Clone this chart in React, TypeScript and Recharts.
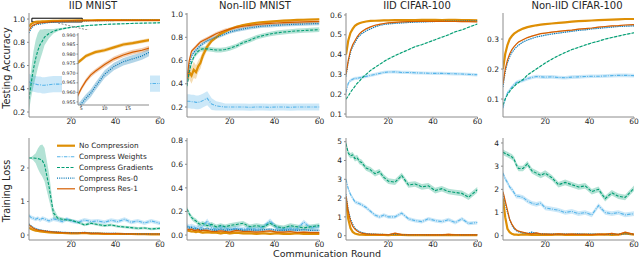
import React from "react";
import { ComposedChart, Line, Area, XAxis, YAxis, ReferenceArea, ReferenceLine } from "recharts";

const rounds = [1, 2, 3, 4, 5, 6, 7, 8, 10, 12, 14, 16, 18, 20, 23, 26, 29, 32, 35, 38, 41, 44, 47, 50, 53, 56, 60];

// IID MNIST - testing accuracy
const mnistIidAccNoComp = [0.935, 0.958, 0.969, 0.975, 0.977, 0.979, 0.98, 0.981, 0.982, 0.9835, 0.985, 0.9857, 0.9866, 0.9875, 0.9885, 0.989, 0.9895, 0.99, 0.99, 0.9905, 0.9905, 0.991, 0.991, 0.991, 0.9915, 0.9915, 0.9915];
const mnistIidAccWeights = [0.46, 0.45, 0.445, 0.44, 0.435, 0.435, 0.43, 0.43, 0.435, 0.44, 0.44, 0.44, 0.44, 0.44, 0.44, 0.44, 0.44, 0.44, 0.44, 0.44, 0.44, 0.44, 0.44, 0.44, 0.44, 0.445, 0.445];
const mnistIidAccGrads = [0.31, 0.45, 0.57, 0.66, 0.73, 0.78, 0.81, 0.845, 0.875, 0.895, 0.908, 0.916, 0.923, 0.929, 0.936, 0.942, 0.946, 0.95, 0.953, 0.956, 0.958, 0.96, 0.962, 0.964, 0.965, 0.966, 0.968];
const mnistIidAccRes0 = [0.88, 0.92, 0.94, 0.951, 0.954, 0.957, 0.9595, 0.963, 0.9695, 0.9735, 0.976, 0.9775, 0.979, 0.9815, 0.983, 0.9845, 0.9855, 0.986, 0.9865, 0.987, 0.9875, 0.988, 0.988, 0.9885, 0.9885, 0.989, 0.989];
const mnistIidAccRes1 = [0.9, 0.935, 0.948, 0.957, 0.962, 0.966, 0.969, 0.971, 0.9745, 0.9775, 0.9795, 0.981, 0.982, 0.9835, 0.985, 0.986, 0.9865, 0.987, 0.9875, 0.988, 0.988, 0.9885, 0.9885, 0.989, 0.989, 0.989, 0.989];
const mnistIidAccGradsSpread = [0.1, 0.12, 0.15, 0.16, 0.15, 0.13, 0.1, 0.07, 0.04, 0.02, 0.012, 0.008, 0.006, 0.005, 0.004, 0.004, 0.004, 0.004, 0.004, 0.004, 0.004, 0.004, 0.004, 0.004, 0.004, 0.004, 0.004];

// Non-IID MNIST - testing accuracy
const mnistNonAccNoComp = [0.44, 0.5, 0.47, 0.52, 0.5, 0.55, 0.58, 0.64, 0.72, 0.77, 0.8, 0.83, 0.85, 0.87, 0.89, 0.905, 0.915, 0.925, 0.93, 0.935, 0.94, 0.943, 0.946, 0.949, 0.951, 0.953, 0.955];
const mnistNonAccWeights = [0.25, 0.25, 0.245, 0.245, 0.24, 0.24, 0.245, 0.255, 0.275, 0.225, 0.21, 0.205, 0.2, 0.2, 0.2, 0.2, 0.198, 0.2, 0.2, 0.198, 0.2, 0.2, 0.198, 0.2, 0.2, 0.2, 0.2];
const mnistNonAccGrads = [0.38, 0.5, 0.58, 0.63, 0.66, 0.68, 0.695, 0.7, 0.7, 0.695, 0.69, 0.69, 0.695, 0.705, 0.725, 0.755, 0.775, 0.8, 0.815, 0.828, 0.838, 0.845, 0.85, 0.855, 0.858, 0.862, 0.866];
const mnistNonAccRes0 = [0.4, 0.55, 0.64, 0.67, 0.69, 0.71, 0.73, 0.745, 0.77, 0.785, 0.8, 0.815, 0.83, 0.845, 0.86, 0.872, 0.882, 0.89, 0.896, 0.9, 0.904, 0.907, 0.91, 0.912, 0.914, 0.916, 0.918];
const mnistNonAccRes1 = [0.45, 0.6, 0.68, 0.7, 0.72, 0.74, 0.76, 0.77, 0.79, 0.81, 0.83, 0.845, 0.86, 0.87, 0.885, 0.895, 0.903, 0.91, 0.915, 0.92, 0.923, 0.926, 0.928, 0.93, 0.932, 0.934, 0.936];
const mnistNonAccNoCompSpread = [0.05, 0.06, 0.07, 0.07, 0.06, 0.05, 0.05, 0.04, 0.03, 0.02, 0.015, 0.01, 0.008, 0.008, 0.008, 0.008, 0.008, 0.008, 0.008, 0.008, 0.008, 0.008, 0.008, 0.008, 0.008, 0.008, 0.008];
const mnistNonAccWeightsSpread = [0.06, 0.06, 0.06, 0.06, 0.06, 0.06, 0.06, 0.06, 0.06, 0.05, 0.04, 0.035, 0.03, 0.03, 0.03, 0.03, 0.03, 0.03, 0.03, 0.03, 0.03, 0.03, 0.03, 0.03, 0.03, 0.03, 0.03];

// IID CIFAR-100 - testing accuracy
const cifarIidAccNoComp = [0.4, 0.47, 0.51, 0.53, 0.545, 0.553, 0.558, 0.562, 0.567, 0.57, 0.571, 0.572, 0.573, 0.573, 0.574, 0.574, 0.574, 0.574, 0.575, 0.575, 0.575, 0.574, 0.575, 0.575, 0.574, 0.574, 0.573];
const cifarIidAccWeights = [0.21, 0.255, 0.27, 0.275, 0.28, 0.28, 0.283, 0.285, 0.29, 0.295, 0.3, 0.305, 0.31, 0.312, 0.313, 0.31, 0.31, 0.308, 0.307, 0.306, 0.305, 0.305, 0.304, 0.303, 0.302, 0.3, 0.298];
const cifarIidAccGrads = [0.175, 0.19, 0.21, 0.225, 0.24, 0.255, 0.265, 0.28, 0.3, 0.32, 0.335, 0.35, 0.365, 0.378, 0.395, 0.41, 0.425, 0.44, 0.45, 0.463, 0.475, 0.488, 0.5, 0.515, 0.525, 0.538, 0.555];
const cifarIidAccRes0 = [0.29, 0.36, 0.41, 0.44, 0.46, 0.48, 0.495, 0.505, 0.52, 0.53, 0.54, 0.547, 0.552, 0.555, 0.558, 0.56, 0.562, 0.564, 0.565, 0.566, 0.567, 0.568, 0.569, 0.569, 0.57, 0.57, 0.571];
const cifarIidAccRes1 = [0.3, 0.37, 0.42, 0.45, 0.47, 0.49, 0.505, 0.515, 0.53, 0.54, 0.548, 0.553, 0.557, 0.56, 0.563, 0.565, 0.566, 0.567, 0.568, 0.568, 0.568, 0.568, 0.567, 0.567, 0.566, 0.566, 0.565];

// Non-IID CIFAR-100 - testing accuracy
const cifarNonAccNoComp = [0.2, 0.25, 0.28, 0.3, 0.31, 0.318, 0.323, 0.328, 0.335, 0.34, 0.343, 0.346, 0.348, 0.35, 0.352, 0.354, 0.356, 0.358, 0.36, 0.361, 0.362, 0.363, 0.364, 0.365, 0.366, 0.367, 0.367];
const cifarNonAccWeights = [0.07, 0.1, 0.12, 0.13, 0.14, 0.148, 0.155, 0.158, 0.162, 0.168, 0.172, 0.175, 0.174, 0.173, 0.174, 0.172, 0.171, 0.173, 0.174, 0.175, 0.176, 0.176, 0.177, 0.178, 0.179, 0.179, 0.178];
const cifarNonAccGrads = [0.08, 0.1, 0.115, 0.125, 0.135, 0.142, 0.15, 0.155, 0.165, 0.18, 0.19, 0.2, 0.21, 0.22, 0.233, 0.245, 0.255, 0.265, 0.272, 0.28, 0.287, 0.293, 0.3, 0.305, 0.31, 0.315, 0.321];
const cifarNonAccRes0 = [0.14, 0.19, 0.22, 0.24, 0.255, 0.265, 0.273, 0.28, 0.29, 0.297, 0.302, 0.307, 0.31, 0.313, 0.317, 0.32, 0.323, 0.326, 0.329, 0.331, 0.334, 0.336, 0.338, 0.34, 0.342, 0.343, 0.344];
const cifarNonAccRes1 = [0.15, 0.2, 0.23, 0.25, 0.265, 0.275, 0.283, 0.29, 0.298, 0.305, 0.31, 0.314, 0.318, 0.32, 0.323, 0.326, 0.328, 0.33, 0.333, 0.335, 0.337, 0.34, 0.342, 0.344, 0.345, 0.347, 0.348];

// IID MNIST - training loss
const mnistIidLossNoComp = [0.22, 0.18, 0.15, 0.13, 0.12, 0.11, 0.1, 0.09, 0.08, 0.07, 0.065, 0.06, 0.055, 0.05, 0.05, 0.06, 0.04, 0.04, 0.035, 0.03, 0.035, 0.03, 0.03, 0.025, 0.025, 0.02, 0.02];
const mnistIidLossWeights = [0.58, 0.52, 0.5, 0.47, 0.5, 0.45, 0.5, 0.48, 0.42, 0.48, 0.45, 0.4, 0.48, 0.42, 0.38, 0.45, 0.4, 0.42, 0.38, 0.44, 0.4, 0.47, 0.38, 0.42, 0.36, 0.42, 0.35];
const mnistIidLossGrads = [2.3, 2.3, 2.3, 2.29, 2.28, 2.26, 2.22, 2.1, 1.45, 0.66, 0.5, 0.47, 0.45, 0.44, 0.38, 0.3, 0.35, 0.31, 0.28, 0.3, 0.26, 0.24, 0.22, 0.2, 0.21, 0.18, 0.2];
const mnistIidLossRes0 = [0.33, 0.27, 0.22, 0.19, 0.17, 0.15, 0.14, 0.13, 0.11, 0.1, 0.09, 0.08, 0.075, 0.07, 0.065, 0.08, 0.06, 0.055, 0.05, 0.05, 0.045, 0.04, 0.04, 0.035, 0.035, 0.03, 0.03];
const mnistIidLossRes1 = [0.3, 0.25, 0.2, 0.17, 0.15, 0.14, 0.13, 0.12, 0.1, 0.09, 0.08, 0.07, 0.065, 0.06, 0.06, 0.07, 0.05, 0.05, 0.04, 0.045, 0.04, 0.035, 0.035, 0.03, 0.03, 0.03, 0.03];
const mnistIidLossGradsSpread = [0.02, 0.03, 0.08, 0.15, 0.3, 0.42, 0.48, 0.5, 0.4, 0.15, 0.06, 0.05, 0.04, 0.04, 0.04, 0.04, 0.04, 0.04, 0.04, 0.04, 0.04, 0.04, 0.04, 0.04, 0.04, 0.04, 0.04];

// Non-IID MNIST - training loss
const mnistNonLossNoComp = [0.04, 0.035, 0.03, 0.03, 0.025, 0.03, 0.025, 0.02, 0.025, 0.02, 0.02, 0.015, 0.02, 0.015, 0.02, 0.015, 0.015, 0.01, 0.015, 0.01, 0.015, 0.01, 0.01, 0.015, 0.01, 0.01, 0.01];
const mnistNonLossWeights = [0.08, 0.07, 0.075, 0.07, 0.06, 0.07, 0.06, 0.07, 0.12, 0.06, 0.05, 0.07, 0.06, 0.05, 0.06, 0.05, 0.06, 0.05, 0.07, 0.12, 0.06, 0.05, 0.06, 0.05, 0.11, 0.06, 0.07];
const mnistNonLossGrads = [0.22, 0.18, 0.15, 0.13, 0.12, 0.1, 0.09, 0.1, 0.08, 0.09, 0.07, 0.08, 0.07, 0.08, 0.09, 0.1, 0.07, 0.08, 0.07, 0.1, 0.07, 0.06, 0.08, 0.07, 0.06, 0.07, 0.08];
const mnistNonLossRes0 = [0.07, 0.06, 0.065, 0.05, 0.055, 0.05, 0.045, 0.05, 0.055, 0.045, 0.04, 0.05, 0.04, 0.045, 0.05, 0.04, 0.045, 0.04, 0.045, 0.05, 0.04, 0.04, 0.045, 0.04, 0.045, 0.04, 0.04];
const mnistNonLossRes1 = [0.05, 0.045, 0.05, 0.04, 0.04, 0.045, 0.035, 0.04, 0.04, 0.03, 0.03, 0.035, 0.03, 0.025, 0.04, 0.03, 0.03, 0.025, 0.03, 0.035, 0.025, 0.025, 0.03, 0.02, 0.025, 0.02, 0.02];

// IID CIFAR-100 - training loss
const cifarIidLossNoComp = [1.8, 0.9, 0.4, 0.2, 0.12, 0.08, 0.06, 0.05, 0.045, 0.04, 0.04, 0.04, 0.04, 0.035, 0.05, 0.04, 0.035, 0.035, 0.03, 0.035, 0.03, 0.03, 0.04, 0.03, 0.03, 0.03, 0.03];
const cifarIidLossWeights = [3.0, 2.5, 2.2, 2.0, 1.8, 1.75, 1.7, 1.65, 1.5, 1.3, 1.1, 1.0, 1.1, 1.0, 1.0, 1.2, 0.9, 0.8, 0.75, 0.9, 0.8, 0.75, 0.85, 0.7, 0.9, 0.65, 0.7];
const cifarIidLossGrads = [4.9, 4.4, 4.25, 4.3, 4.1, 4.15, 3.95, 3.9, 3.6, 3.5, 3.3, 3.4, 3.1, 2.9, 2.85, 3.2, 2.7, 2.75, 2.6, 2.65, 2.4, 2.5, 2.35, 2.3, 2.25, 2.05, 2.45];
const cifarIidLossRes0 = [2.2, 1.4, 0.9, 0.6, 0.4, 0.3, 0.22, 0.17, 0.12, 0.09, 0.08, 0.07, 0.065, 0.06, 0.08, 0.06, 0.055, 0.05, 0.05, 0.05, 0.05, 0.05, 0.06, 0.05, 0.05, 0.05, 0.05];
const cifarIidLossRes1 = [2.1, 1.3, 0.8, 0.5, 0.35, 0.25, 0.18, 0.14, 0.1, 0.08, 0.07, 0.06, 0.06, 0.05, 0.14, 0.06, 0.05, 0.05, 0.05, 0.045, 0.05, 0.045, 0.07, 0.05, 0.04, 0.05, 0.04];

// Non-IID CIFAR-100 - training loss
const cifarNonLossNoComp = [1.6, 0.8, 0.3, 0.15, 0.08, 0.05, 0.05, 0.04, 0.06, 0.05, 0.04, 0.05, 0.04, 0.05, 0.04, 0.06, 0.04, 0.05, 0.04, 0.05, 0.04, 0.05, 0.06, 0.04, 0.05, 0.1, 0.05];
const cifarNonLossWeights = [2.7, 2.45, 2.3, 2.1, 2.0, 1.85, 1.7, 1.7, 1.65, 1.5, 1.4, 1.35, 1.4, 1.2, 1.15, 1.1, 1.0, 1.05, 0.95, 1.0, 0.9, 1.3, 1.0, 0.95, 1.0, 0.9, 0.95];
const cifarNonLossGrads = [3.6, 3.55, 3.5, 3.45, 3.4, 3.3, 3.05, 2.9, 2.9, 3.1, 2.8, 2.7, 2.6, 2.7, 2.5, 2.2, 2.3, 2.2, 2.1, 2.15, 1.9, 2.0, 1.6, 1.85, 1.7, 1.65, 2.05];
const cifarNonLossRes0 = [1.8, 1.4, 1.0, 0.7, 0.45, 0.3, 0.22, 0.17, 0.12, 0.1, 0.15, 0.1, 0.08, 0.07, 0.07, 0.06, 0.07, 0.06, 0.08, 0.06, 0.07, 0.06, 0.05, 0.07, 0.06, 0.08, 0.07];
const cifarNonLossRes1 = [1.9, 1.5, 1.1, 0.7, 0.5, 0.35, 0.25, 0.2, 0.15, 0.1, 0.08, 0.12, 0.08, 0.07, 0.06, 0.08, 0.06, 0.07, 0.06, 0.06, 0.05, 0.07, 0.06, 0.1, 0.05, 0.15, 0.06];

const SERIES = [
  { key: "noComp", name: "No Compression", color: "#DE8F05", width: 2.2, dash: undefined as string | undefined },
  { key: "weights", name: "Compress Weights", color: "#56B4E9", width: 1.1, dash: "3.5 1.2 1 1.2" },
  { key: "grads", name: "Compress Gradients", color: "#029E73", width: 1.1, dash: "3 1.5" },
  { key: "res0", name: "Compress Res-0", color: "#0173B2", width: 1.2, dash: "1 1.2" },
  { key: "res1", name: "Compress Res-1", color: "#D55E00", width: 1.2, dash: undefined },
];

function buildRows(means: number[][], spreads: (number | number[])[]) {
  return rounds.map((x, i) => {
    const row: Record<string, any> = { x };
    SERIES.forEach((s, k) => {
      const m = means[k][i];
      const sp = spreads[k];
      const d = Array.isArray(sp) ? sp[i] : sp;
      row[s.key] = m;
      row[s.key + "Band"] = [m - d, m + d];
    });
    return row;
  });
}

const COLS = [
  [29, 160],
  [186.5, 319],
  [345.5, 477],
  [503, 634],
];
const ROW1 = [13, 117];
const ROW2 = [138, 240];

const panels = [
  {
    id: "p1", col: 0, row: ROW1, domain: [0.157, 1.052], ticks: [0.2, 0.4, 0.6, 0.8, 1.0], dec: 1,
    rows: buildRows([mnistIidAccNoComp, mnistIidAccWeights, mnistIidAccGrads, mnistIidAccRes0, mnistIidAccRes1], [0.001, 0.07, mnistIidAccGradsSpread, 0.002, 0.0012]),
  },
  {
    id: "p2", col: 1, row: ROW1, domain: [0.114, 1.009], ticks: [0.2, 0.4, 0.6, 0.8, 1.0], dec: 1,
    rows: buildRows([mnistNonAccNoComp, mnistNonAccWeights, mnistNonAccGrads, mnistNonAccRes0, mnistNonAccRes1], [mnistNonAccNoCompSpread, mnistNonAccWeightsSpread, 0.02, 0.015, 0.015]),
  },
  {
    id: "p3", col: 2, row: ROW1, domain: [0.085, 0.61], ticks: [0.1, 0.2, 0.3, 0.4, 0.5, 0.6], dec: 1,
    rows: buildRows([cifarIidAccNoComp, cifarIidAccWeights, cifarIidAccGrads, cifarIidAccRes0, cifarIidAccRes1], [0.003, 0.008, 0.003, 0.003, 0.003]),
  },
  {
    id: "p4", col: 3, row: ROW1, domain: [0.04, 0.387], ticks: [0.1, 0.2, 0.3], dec: 1,
    rows: buildRows([cifarNonAccNoComp, cifarNonAccWeights, cifarNonAccGrads, cifarNonAccRes0, cifarNonAccRes1], [0.002, 0.006, 0.002, 0.002, 0.002]),
  },
  {
    id: "p5", col: 0, row: ROW2, domain: [-0.149, 2.895], ticks: [0, 1, 2], dec: 0,
    rows: buildRows([mnistIidLossNoComp, mnistIidLossWeights, mnistIidLossGrads, mnistIidLossRes0, mnistIidLossRes1], [0.02, 0.06, mnistIidLossGradsSpread, 0.02, 0.02]),
  },
  {
    id: "p6", col: 1, row: ROW2, domain: [-0.042, 0.823], ticks: [0, 0.2, 0.4, 0.6, 0.8], dec: 1,
    rows: buildRows([mnistNonLossNoComp, mnistNonLossWeights, mnistNonLossGrads, mnistNonLossRes0, mnistNonLossRes1], [0.01, 0.02, 0.02, 0.01, 0.01]),
  },
  {
    id: "p7", col: 2, row: ROW2, domain: [-0.229, 5.197], ticks: [0, 1, 2, 3, 4, 5], dec: 0,
    rows: buildRows([cifarIidLossNoComp, cifarIidLossWeights, cifarIidLossGrads, cifarIidLossRes0, cifarIidLossRes1], [0.02, 0.1, 0.15, 0.03, 0.03]),
  },
  {
    id: "p8", col: 3, row: ROW2, domain: [-0.185, 4.215], ticks: [0, 1, 2, 3, 4], dec: 0,
    rows: buildRows([cifarNonLossNoComp, cifarNonLossWeights, cifarNonLossGrads, cifarNonLossRes0, cifarNonLossRes1], [0.02, 0.1, 0.12, 0.03, 0.03]),
  },
];

const titles = [
  { text: "IID MNIST", x: 93 },
  { text: "Non-IID MNIST", x: 255 },
  { text: "IID CIFAR-100", x: 417 },
  { text: "Non-IID CIFAR-100", x: 577 },
];

const FONT = "'DejaVu Sans', sans-serif";
const TEXT = "#262626";
const SPINE = "#8c8c8c";
const YW = 26;
const PADTOP = 6;
const RIGHT = 8;
const XH = 11;

function seriesMarks(keys: string[]) {
  const list = SERIES.filter((s) => keys.includes(s.key));
  return [
    ...list.map((s) => (
      <Area
        key={s.key + "Band"}
        type="linear"
        dataKey={s.key + "Band"}
        stroke="none"
        fill={s.color}
        fillOpacity={0.3}
        isAnimationActive={false}
        activeDot={false}
        dot={false}
      />
    )),
    ...list.map((s) => (
      <Line
        key={s.key}
        type="linear"
        dataKey={s.key}
        stroke={s.color}
        strokeWidth={s.width}
        strokeDasharray={s.dash}
        dot={false}
        activeDot={false}
        isAnimationActive={false}
      />
    )),
  ];
}

function Panel({ p }: { p: (typeof panels)[number] }) {
  const [left, right] = COLS[p.col];
  const [top, bottom] = p.row;
  const w = YW + (right - left) + RIGHT;
  const h = PADTOP + (bottom - top) + XH;
  return (
    <div style={{ position: "absolute", left: left - YW, top: top - PADTOP }}>
      <ComposedChart width={w} height={h} data={p.rows} margin={{ top: PADTOP, right: RIGHT, bottom: 0, left: 0 }}>
        <XAxis
          type="number"
          dataKey="x"
          domain={[1, 60]}
          ticks={[20, 40, 60]}
          interval={0}
          allowDataOverflow
          height={XH}
          tickSize={2}
          tickMargin={0}
          stroke={SPINE}
          tick={{ fontSize: 7.5, fill: TEXT }}
        />
        <YAxis
          type="number"
          domain={p.domain}
          ticks={p.ticks}
          interval={0}
          allowDataOverflow
          width={YW}
          tickSize={2}
          tickMargin={2}
          stroke={SPINE}
          tick={{ fontSize: 7.5, fill: TEXT }}
          tickFormatter={(v: number) => v.toFixed(p.dec)}
        />
        {seriesMarks(SERIES.map((s) => s.key))}
        {p.id === "p1" && (
          <ReferenceArea x1={2.3} x2={25} y1={0.975} y2={1.007} fill="none" stroke="#000" strokeWidth={1} />
        )}
        {p.id === "p1" && (
          <ReferenceLine
            segment={[{ x: 14.1, y: 0.966 }, { x: 33, y: 0.88 }]}
            stroke="#888"
            strokeDasharray="2 1.5"
            strokeWidth={1}
            ifOverflow="visible"
          />
        )}
      </ComposedChart>
    </div>
  );
}

const insetTicksY = [0.955, 0.96, 0.965, 0.97, 0.975, 0.98, 0.985, 0.99];
const insetTicksX = [5, 10, 15];

function Inset() {
  return (
    <div style={{ position: "absolute", left: 62, top: 30, width: 88, height: 83, background: "#fff" }}>
      <ComposedChart width={88} height={83} data={panels[0].rows} margin={{ top: 3, right: 1, bottom: 0, left: 0 }}>
        <XAxis
          type="number"
          dataKey="x"
          domain={[4.3, 19.5]}
          ticks={insetTicksX}
          interval={0}
          allowDataOverflow
          height={8}
          tickSize={1.5}
          tickMargin={0}
          stroke={SPINE}
          tick={{ fontSize: 4.7, fill: TEXT }}
        />
        <YAxis
          type="number"
          domain={[0.9534, 0.991]}
          ticks={insetTicksY}
          interval={0}
          allowDataOverflow
          width={16}
          tickSize={1.5}
          tickMargin={1}
          stroke={SPINE}
          tick={{ fontSize: 4.7, fill: TEXT }}
          tickFormatter={(v: number) => v.toFixed(3)}
        />
        {seriesMarks(["noComp", "res0", "res1"])}
      </ComposedChart>
    </div>
  );
}

const legendRowsY = [145.7, 156.7, 167.5, 178.2, 188.8];

export default function App() {
  return (
    <div style={{ position: "absolute", left: 0, top: 0, width: 640, height: 258, background: "#fff", fontFamily: FONT, overflow: "hidden" }}>
      {panels.map((p) => (
        <Panel key={p.id} p={p} />
      ))}
      <Inset />
      <svg width={640} height={258} style={{ position: "absolute", left: 0, top: 0, pointerEvents: "none" }} fontFamily={FONT}>
        {titles.map((t) => (
          <text key={t.text} x={t.x} y={8.5} textAnchor="middle" fontSize={10} fill={TEXT}>
            {t.text}
          </text>
        ))}
        <text transform="translate(9.5,68) rotate(-90)" textAnchor="middle" fontSize={9.7} fill={TEXT}>
          Testing Accuracy
        </text>
        <text transform="translate(9.5,191) rotate(-90)" textAnchor="middle" fontSize={9.7} fill={TEXT}>
          Training Loss
        </text>
        <text x={327} y={257.3} textAnchor="middle" fontSize={9.5} fill={TEXT}>
          Communication Round
        </text>
        {SERIES.map((s, i) => (
          <g key={s.key}>
            <line
              x1={57}
              x2={75}
              y1={legendRowsY[i]}
              y2={legendRowsY[i]}
              stroke={s.color}
              strokeWidth={s.width}
              strokeDasharray={s.dash}
            />
            <text x={79} y={legendRowsY[i] + 2.6} fontSize={7.3} fill={TEXT}>
              {s.name}
            </text>
          </g>
        ))}
      </svg>
    </div>
  );
}
